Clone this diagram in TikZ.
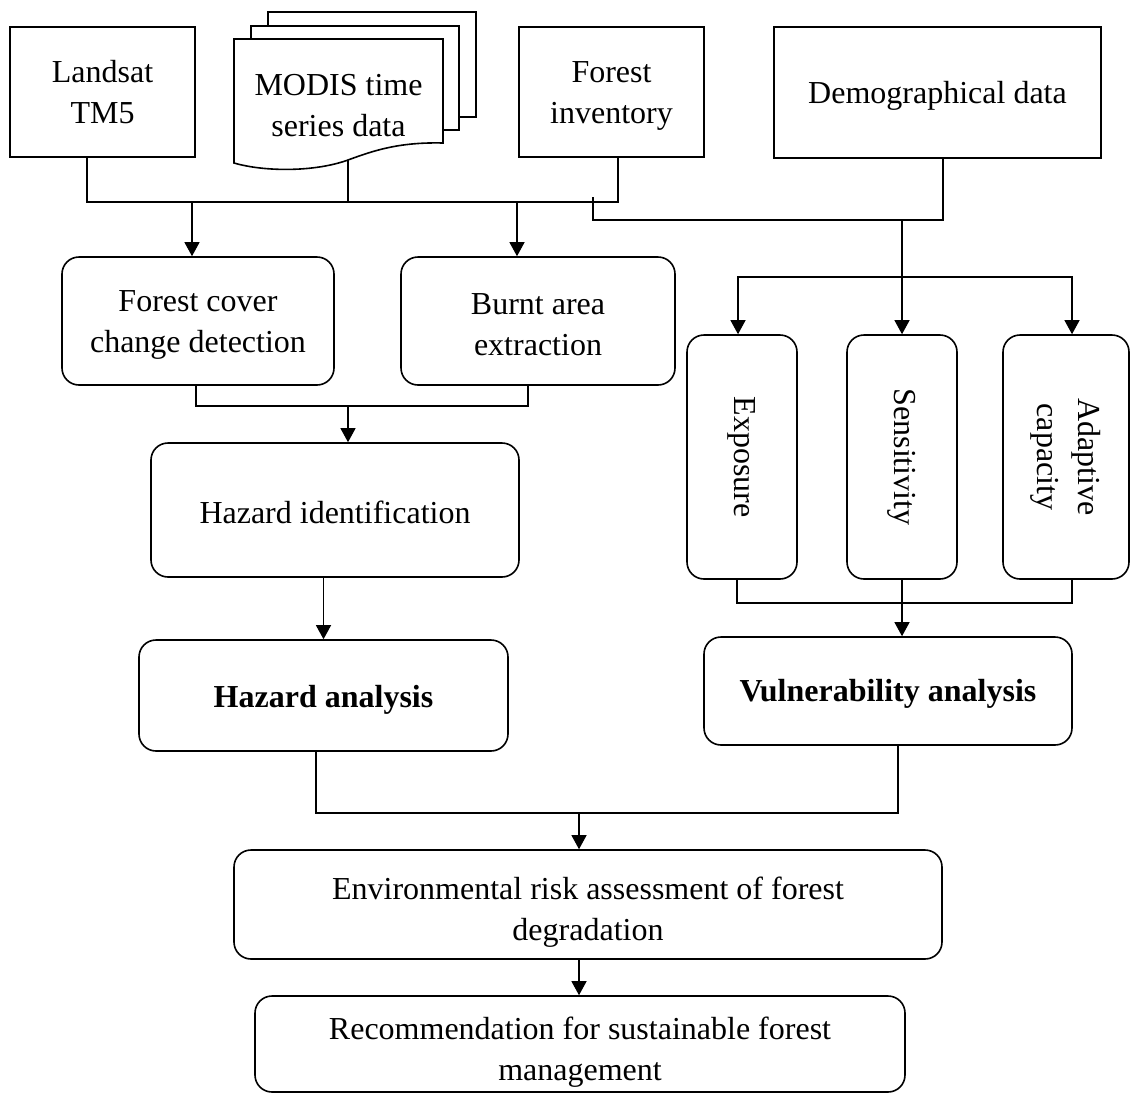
\documentclass[tikz,border=0pt]{standalone}
\usepackage{fontspec}
\setmainfont{Liberation Serif}
\usetikzlibrary{arrows.meta}
\newcommand\diafont{\fontsize{32}{41}\selectfont}
\begin{document}
\begin{tikzpicture}[x=1pt,y=-1pt,
  box/.style={draw, line width=1.6pt, inner sep=0pt},
  rbox/.style={box, rounded corners=17pt},
  txt/.style={font=\diafont, align=center, inner sep=0pt},
  page/.style={draw, fill=white, line width=1.6pt},
  wire/.style={line width=1.2pt},
  arr/.style={wire, -{Triangle[length=14pt,width=15pt]}}]
\useasboundingbox (0,0) rectangle (1131,1095);

% data sources
\node[box, minimum width=185pt, minimum height=130pt] (landsat) at (102.5,92) {};
\node[txt] (landsatt) at (102.5,92) {Landsat\\TM5};
\draw[page] (268,12) rectangle (476,117);
\draw[page] (251,26) rectangle (459,130);
\draw[page] (443,143) .. controls (400,142) and (375,150) .. (348,160)
  .. controls (315,172) and (265,172) .. (234,163) -- (234,39) -- (443,39) -- cycle;
\coordinate (mw) at (348,160);
\node[txt] (modis) at (338.5,106) {MODIS time\\series data};
\node[box, minimum width=185pt, minimum height=130pt] (forinv) at (611.5,92) {};
\node[txt] (forinvt) at (611.5,96) {Forest\\inventory};
\node[box, minimum width=327pt, minimum height=131pt] (demog) at (937.5,92.5) {};
\node[txt] (demogt) at (937.5,96) {Demographical data};

% hazard branch
\node[rbox, minimum width=272pt, minimum height=128pt] (fcc) at (198,321) {};
\node[txt] (fcct) at (198,325) {Forest cover\\change detection};
\node[rbox, minimum width=274pt, minimum height=128pt] (burnt) at (538,321) {};
\node[txt] (burntt) at (538,325) {Burnt area\\extraction};
\node[rbox, minimum width=368pt, minimum height=134pt] (hazid) at (335,510) {};
\node[txt] (hazidt) at (335,512) {Hazard identification};
\node[rbox, minimum width=369pt, minimum height=111pt] (hazan) at (323.5,695.5) {};
\node[txt, font=\diafont\bfseries] (hazant) at (323.5,700) {Hazard analysis};

% vulnerability branch
\node[rbox, minimum width=110pt, minimum height=244pt] (expo) at (742,457) {};
\node[txt, rotate=-90] (expot) at (expo) {Exposure};
\node[rbox, minimum width=110pt, minimum height=244pt] (sens) at (902,457) {};
\node[txt, rotate=-90] (senst) at (sens) {Sensitivity};
\node[rbox, minimum width=126pt, minimum height=244pt] (adap) at (1066,457) {};
\node[txt, rotate=-90] (adapt) at (adap) {Adaptive\\capacity};
\node[rbox, minimum width=368pt, minimum height=108pt] (vuln) at (888,691) {};
\node[txt, font=\diafont\bfseries] (vulnt) at (888,694) {Vulnerability analysis};

% synthesis
\node[rbox, minimum width=708pt, minimum height=109pt] (env) at (588,904.5) {};
\node[txt] (envt) at (588,912) {Environmental risk assessment of forest\\degradation};
\node[rbox, minimum width=650pt, minimum height=96pt] (rec) at (580,1044) {};
\node[txt] (rect) at (580,1052) {Recommendation for sustainable forest\\management};

% connectors: sources to hazard mapping
\coordinate (bus) at (0,202);
\coordinate (la) at ([xshift=-15.5pt]landsat.south);
\coordinate (fi) at ([xshift=6.5pt]forinv.south);
\draw[wire] (la) |- (fi |- bus) -- (fi);
\draw[wire] (mw) -- (mw |- bus);
\draw[arr] ([xshift=-6pt]fcc.north |- bus) -- ([xshift=-6pt]fcc.north);
\draw[arr] ([xshift=-21pt]burnt.north |- bus) -- ([xshift=-21pt]burnt.north);

% connectors: inventory and demography to vulnerability components
\coordinate (tick) at (593,197);
\coordinate (dj) at ([xshift=5.5pt]demog.south);
\coordinate (sp) at (sens.north |- 0,220);
\coordinate (row) at (0,277);
\draw[wire] (tick) |- (dj |- sp) -- (dj);
\draw[arr] (sp) -- (sens.north);
\coordinate (xa) at ([xshift=-4pt]expo.north);
\coordinate (xc) at ([xshift=6pt]adap.north);
\draw[arr] (xc |- row) -| (xa);
\draw[arr] (xa |- row) -| (xc);

% hazard chain
\coordinate (fb) at ([xshift=-2pt]fcc.south);
\coordinate (bb) at ([xshift=-10pt]burnt.south);
\coordinate (hj) at ([xshift=13pt]hazid.north);
\draw[wire] (fb) |- (bb |- 0,406) -- (bb);
\draw[arr] (hj |- 0,406) -- (hj);
\draw[arr] (hazan.north |- hazid.south) -- (hazan.north);

% vulnerability chain
\coordinate (eb) at ([xshift=-5pt]expo.south);
\coordinate (ab) at ([xshift=6pt]adap.south);
\draw[wire] (eb) |- (ab |- 0,603) -- (ab);
\draw[arr] (sens.south) -- (sens.south |- vuln.north);

% risk assessment and recommendation
\coordinate (hb) at ([xshift=-7.5pt]hazan.south);
\coordinate (vb) at ([xshift=10pt]vuln.south);
\coordinate (et) at ([xshift=-9pt]env.north);
\draw[wire] (hb) |- (vb |- 0,813) -- (vb);
\draw[arr] (et |- 0,813) -- (et);
\draw[arr] ([xshift=-9pt]env.south) -- ([xshift=-9pt]env.south |- rec.north);
\end{tikzpicture}
\end{document}
